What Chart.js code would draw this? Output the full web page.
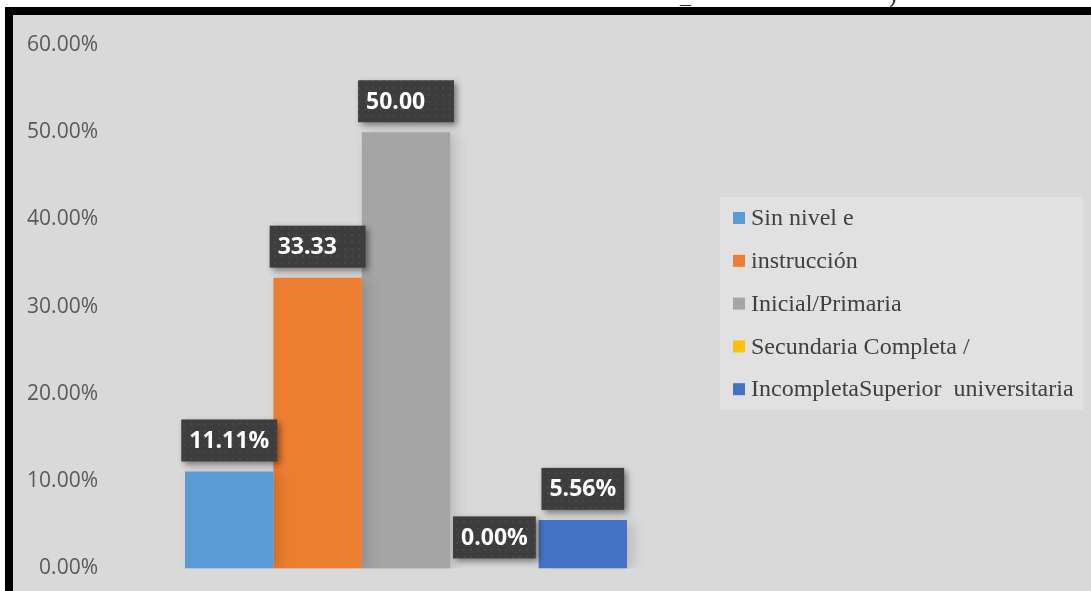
<!DOCTYPE html>
<html>
<head>
<meta charset="utf-8">
<script src="https://cdn.jsdelivr.net/npm/chart.js@4.4.1/dist/chart.umd.min.js"></script>
<style>
  html, body { margin: 0; padding: 0; background: #fff; }
  body { width: 1091px; height: 591px; position: relative; overflow: hidden; }
  .topline { position: absolute; left: 0; top: 0; width: 1091px; height: 7px; overflow: hidden; }
  .topline span { position: absolute; top: -17px; font: 22px "Liberation Serif", serif; color: #222; }
  .frame {
    position: absolute; left: 5px; top: 7px; right: 0; bottom: 0;
    border-left: 8px solid #000; border-top: 8px solid #000;
    background: #d9d9d9;
  }
  canvas { display: block; }
</style>
</head>
<body>
<div class="topline"><span style="left:680px">_</span><span style="left:889px">)</span></div>
<div class="frame">
  <canvas id="grafico" width="1078" height="576"></canvas>
</div>
<script>
const categorias = ["Nivel educativo"];
const niveles = ["Sin nivel e", "instrucción", "Inicial/Primaria", "Secundaria Completa /", "IncompletaSuperior  universitaria"];
const porcentajes = [11.11, 33.33, 50.00, 0.00, 5.56];
const colores = ["#5b9bd5", "#ed7d31", "#a5a5a5", "#ffc000", "#4472c4"];
// las etiquetas de 33.33 y 50.00 aparecen sin el signo %
const conSigno = [true, false, false, true, true];
const ticksY = [0, 10, 20, 30, 40, 50, 60];

const ctx = document.getElementById("grafico").getContext("2d");

// textura punteada de las etiquetas
function texturaEtiqueta() {
  const c = document.createElement("canvas");
  c.width = 7; c.height = 7;
  const g = c.getContext("2d");
  g.fillStyle = "#3d3d3d";
  g.fillRect(0, 0, 7, 7);
  g.fillStyle = "#484848";
  g.fillRect(2, 2, 2, 2);
  g.fillStyle = "#444444";
  g.fillRect(5, 5, 1, 1);
  return ctx.createPattern(c, "repeat");
}
const patron = texturaEtiqueta();

const etiquetasPlugin = {
  id: "etiquetas",
  beforeDatasetsDraw(chart) {
    const c = chart.ctx;
    c.save();
    c.shadowColor = "rgba(0,0,0,0.14)";
    c.shadowBlur = 12;
    c.shadowOffsetX = 6;
    c.shadowOffsetY = 2;
  },
  afterDatasetsDraw(chart) {
    const c = chart.ctx;
    c.restore();
    c.save();
    c.font = "bold 23px 'Open Sans'";
    c.textBaseline = "middle";
    chart.data.datasets.forEach((ds, i) => {
      const bar = chart.getDatasetMeta(i).data[0];
      const v = ds.data[0];
      const completo = v.toFixed(2) + "%";
      const texto = conSigno[i] ? completo : v.toFixed(2);
      const w = c.measureText(completo).width + 16;
      const h = 42;
      const x0 = bar.x - w / 2;
      const y0 = bar.y - 10 - h;
      c.save();
      c.shadowColor = "rgba(0,0,0,0.45)";
      c.shadowBlur = 6;
      c.shadowOffsetX = 3;
      c.shadowOffsetY = 3;
      c.fillStyle = patron;
      c.fillRect(x0, y0, w, h);
      c.restore();
      c.fillStyle = "#ffffff";
      c.textAlign = "left";
      c.fillText(texto, x0 + 8, y0 + h / 2 + 1);
    });
    c.restore();
  },
  afterDraw(chart) {
    // leyenda con fondo claro a la derecha
    const c = chart.ctx;
    const left = chart.chartArea.right + 16;
    const top = 182;
    c.save();
    c.fillStyle = "#e1e1e1";
    c.fillRect(left, top, 363, 213);
    c.font = "24px 'Liberation Serif'";
    c.textBaseline = "middle";
    chart.data.datasets.forEach((ds, i) => {
      const y = top + 21 + i * 42.8;
      c.fillStyle = ds.backgroundColor;
      c.fillRect(left + 13, y - 6, 12, 12);
      c.fillStyle = "#404040";
      c.fillText(ds.label, left + 31, y + 1);
    });
    c.restore();
  }
};

new Chart(ctx, {
  type: "bar",
  data: {
    labels: categorias,
    datasets: niveles.map((n, i) => ({
      label: n,
      data: [porcentajes[i]],
      backgroundColor: colores[i],
      borderWidth: 0
    }))
  },
  options: {
    responsive: false,
    animation: false,
    events: [],
    layout: { padding: { top: 30, right: 387, bottom: 19, left: 0 } },
    datasets: { bar: { barPercentage: 1, categoryPercentage: 0.7416 } },
    plugins: { legend: { display: false }, tooltip: { enabled: false } },
    scales: {
      x: { display: false },
      y: {
        min: 0,
        max: 60,
        afterFit(scale) { scale.width = 95; },
        afterBuildTicks(scale) { scale.ticks = ticksY.map(v => ({ value: v })); },
        grid: { display: false, drawTicks: false },
        border: { display: false },
        ticks: {
          padding: 10,
          color: "#595959",
          font: { family: "'Open Sans'", size: 21 },
          callback: v => v.toFixed(2) + "%"
        }
      }
    }
  },
  plugins: [etiquetasPlugin]
});
</script>
</body>
</html>
